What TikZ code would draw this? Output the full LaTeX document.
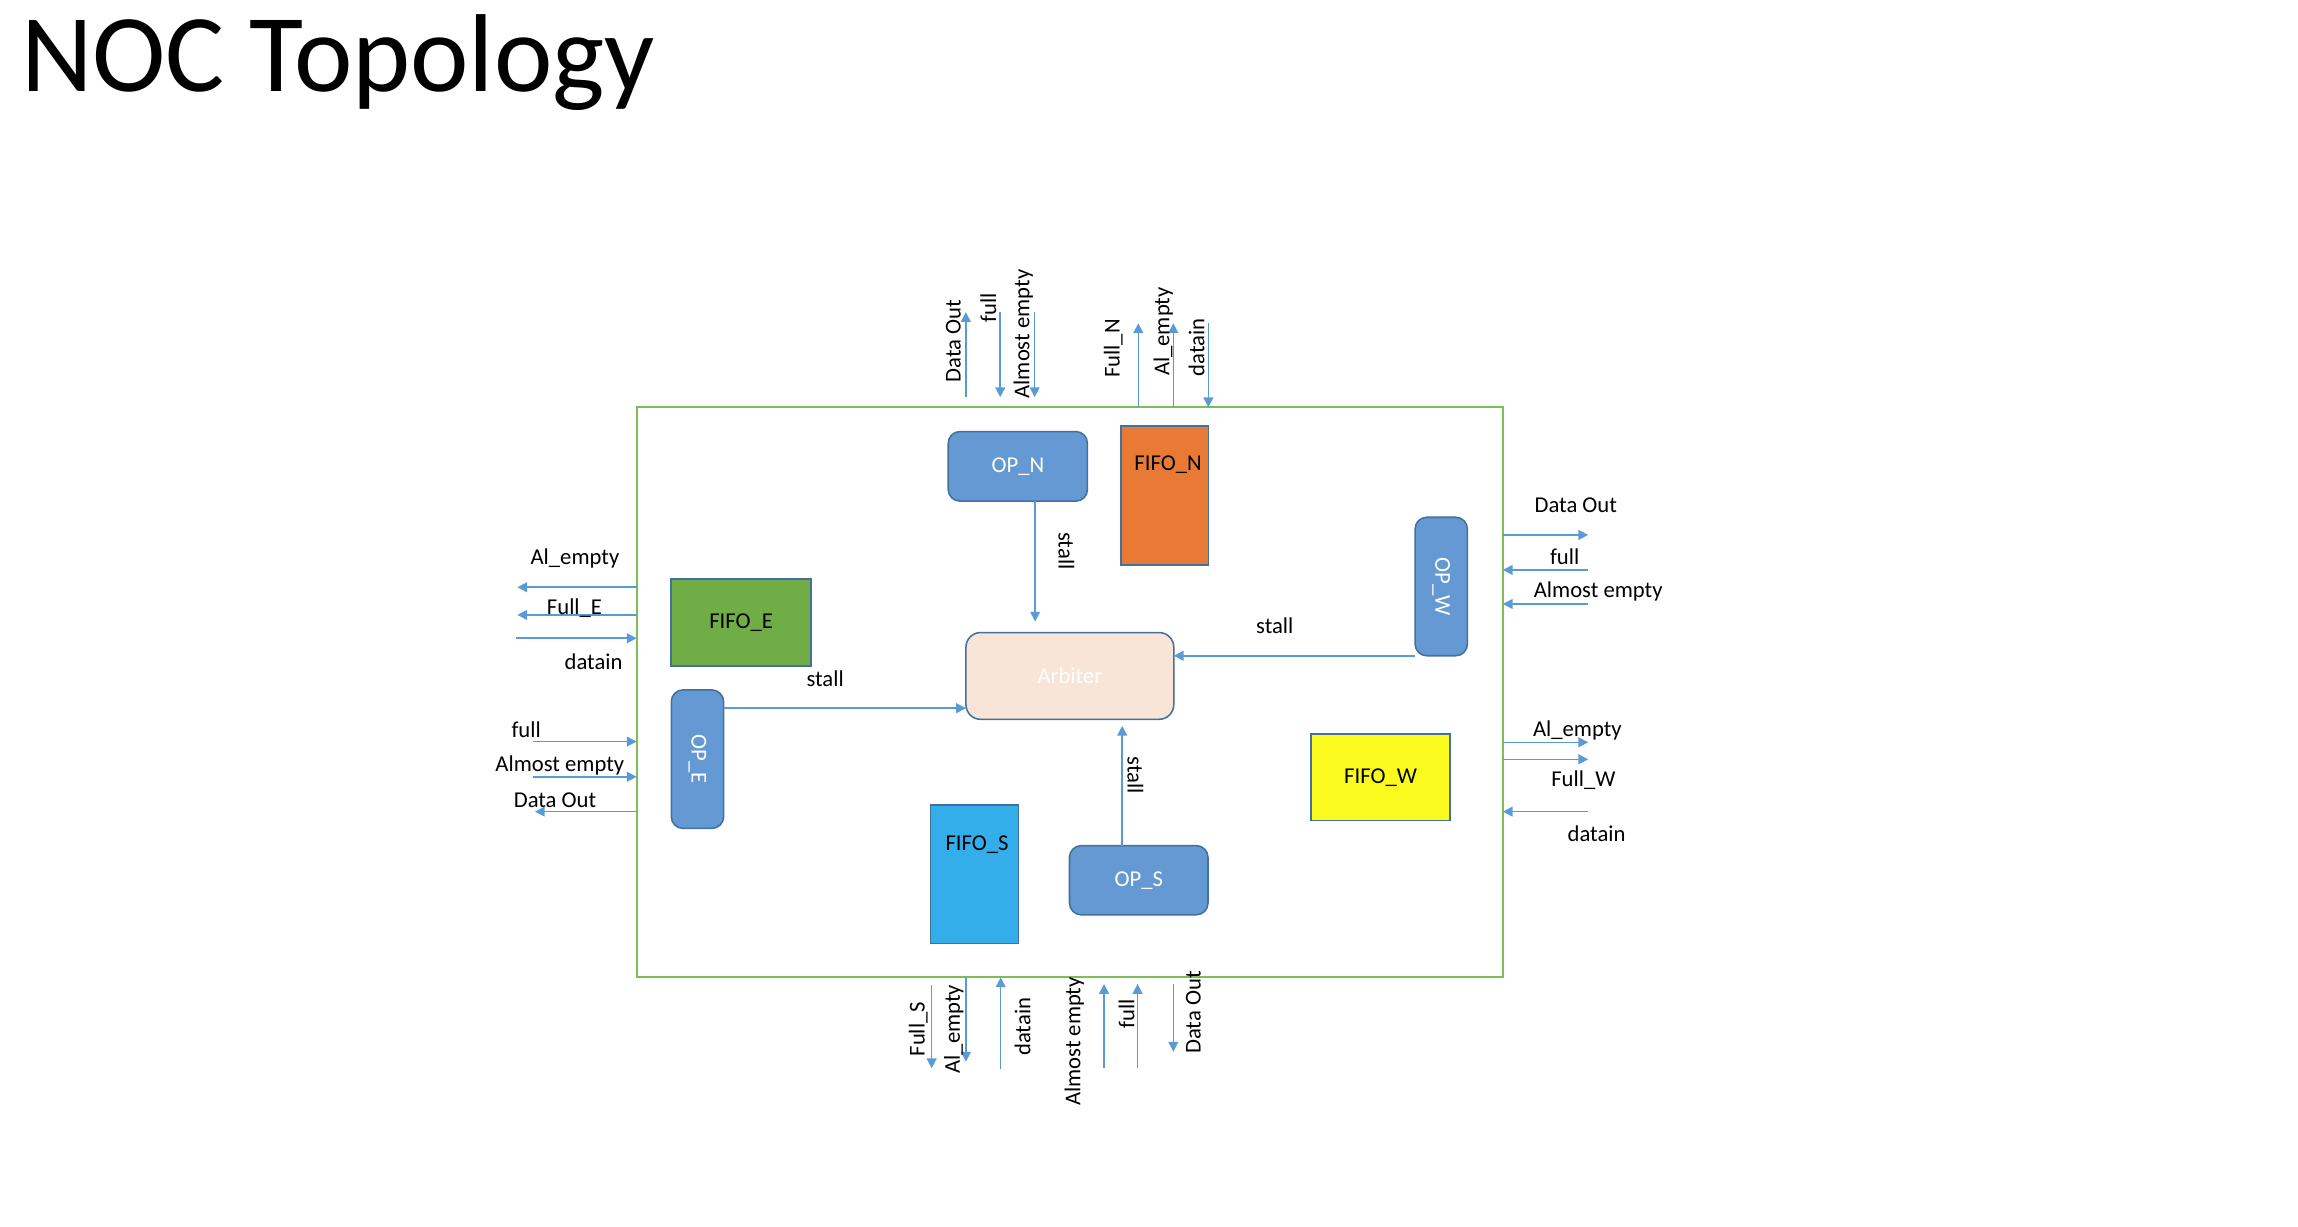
\documentclass[tikz,border=0pt]{standalone}
\usepackage{fontspec}
\setmainfont{Carlito}
\usetikzlibrary{arrows.meta}

\definecolor{sigblue}{RGB}{91,155,213}
\definecolor{opblue}{RGB}{101,153,211}
\definecolor{edgeblue}{RGB}{65,113,156}
\definecolor{framegreen}{RGB}{125,190,85}
\definecolor{fifoorange}{RGB}{232,122,53}
\definecolor{fifogreen}{RGB}{112,173,71}
\definecolor{fifoyellow}{RGB}{250,250,30}
\definecolor{fifocyan}{RGB}{52,174,235}
\definecolor{arbpeach}{RGB}{248,229,216}

\tikzset{
  sig/.style={sigblue, line width=0.6pt, -{Triangle[length=3.8pt,width=3.8pt]}},
  txt/.style={font=\fontsize{8.8}{10}\selectfont, inner sep=0pt},
  opbox/.style={draw=edgeblue, fill=opblue, line width=0.6pt, rounded corners=1.6mm,
    text=white, font=\fontsize{8.8}{10}\selectfont, inner sep=0pt, outer sep=0pt},
  fifobox/.style={draw=edgeblue, line width=0.6pt,
    font=\fontsize{8.8}{10}\selectfont, inner sep=0pt, outer sep=0pt},
}

\begin{document}
\begin{tikzpicture}[x=0.2mm, y=-0.2mm]
    \useasboundingbox (0,0) rectangle (1568,837);

    % Title
    \node[anchor=base west, inner sep=0pt, font=\fontsize{43}{50}\selectfont] (title) at (14,62.6) {NOC Topology};

    % --- Router frame ---
    \node[draw=framegreen, line width=0.8pt, minimum width=118.2mm, minimum height=77.8mm,
          inner sep=0pt, outer sep=0pt] (noc) at (729.9,472.4) {};

    % --- Blocks inside ---
    \node[opbox, minimum width=19mm, minimum height=9.5mm] (opN) at (694.5,318.2) {OP\_N};
    \node[fifobox, fill=fifoorange, minimum width=11.94mm, minimum height=18.96mm] (fifoN) at (794.7,338) {};
    \node[txt] (fifoNtxt) at (797,317) {FIFO\_N};

    \node[opbox, minimum width=7.14mm, minimum height=18.9mm] (opW) at (983.4,400.2) {};
    \node[txt, text=white, rotate=-90] (opWtxt) at (opW) {OP\_W};

    \node[fifobox, fill=fifogreen, minimum width=19.08mm, minimum height=11.88mm] (fifoE) at (505.7,424.7) {FIFO\_E};

    \node[opbox, minimum width=7.14mm, minimum height=18.9mm] (opE) at (475.9,518) {};
    \node[txt, text=white, rotate=-90] (opEtxt) at (opE) {OP\_E};

    \node[opbox, fill=arbpeach, rounded corners=2mm, minimum width=28.36mm, minimum height=11.84mm] (arb) at (730,461.2) {Arbiter};

    \node[fifobox, fill=fifoyellow, minimum width=19mm, minimum height=11.84mm] (fifoW) at (942,530.4) {FIFO\_W};

    \node[fifobox, fill=fifocyan, minimum width=12mm, minimum height=18.96mm] (fifoS) at (664.8,596.5) {};
    \node[txt] (fifoStxt) at (666.7,576.2) {FIFO\_S};

    \node[opbox, minimum width=18.9mm, minimum height=9.44mm] (opS) at (777,600.6) {OP\_S};

    % --- stall lines to the arbiter ---
    \draw[sig, shorten >=1.5mm] (opN.south -| 706.3,0) -- (arb.north -| 706.3,0);
    \draw[sig] (opW.south west) -- (arb.east |- opW.south west);
    \draw[sig] (opE.east |- 0,483.2) -- (arb.west |- 0,483.2);
    \draw[sig, shorten >=0.9mm] (opS.north -| 765.7,0) -- (arb.south -| 765.7,0);

    \node[txt, rotate=-90] (stallN) at (727.6,375.9) {stall};
    \node[txt] (stallW) at (869.8,426.9) {stall};
    \node[txt] (stallE) at (563,463) {stall};
    \node[txt, rotate=-90] (stallS) at (774.8,528.8) {stall};

    % --- North port ---
    \coordinate (nDout) at (659,213);
    \coordinate (nFull) at (682.5,271);
    \coordinate (nAlmost) at (706,271);
    \coordinate (nFullN) at (776.7,220.6);
    \coordinate (nAlEmpty) at (800.6,220.6);
    \coordinate (nDatain) at (824.5,220.6);
    \draw[sig] (nDout |- 0,271) -- (nDout);
    \draw[sig] (nFull |- 0,213) -- (nFull);
    \draw[sig] (nAlmost |- 0,213) -- (nAlmost);
    \draw[sig] (nFullN |- noc.north) -- (nFullN);
    \draw[sig] (nAlEmpty |- noc.north) -- (nAlEmpty);
    \draw[sig] (nDatain) -- (nDatain |- noc.north);
    \node[txt, rotate=90] (lnDout) at (650.5,232.6) {Data Out};
    \node[txt, rotate=90] (lnFull) at (674.3,209.8) {full};
    \node[txt, rotate=90] (lnAlmost) at (698.2,227.9) {Almost empty};
    \node[txt, rotate=90] (lnFullN) at (759.6,237.7) {Full\_N};
    \node[txt, rotate=90] (lnAlEmpty) at (793.8,226.3) {Al\_empty};
    \node[txt, rotate=90] (lnDatain) at (816.5,237) {datain};

    % --- West side (E port) ---
    \coordinate (wAlEmpty) at (353,400.7);
    \coordinate (wFullE) at (353,419.6);
    \coordinate (wDatain) at (352,435.5);
    \coordinate (wFull) at (364,506);
    \coordinate (wAlmost) at (364,530);
    \coordinate (wDout) at (365,553.8);
    \draw[sig] (wAlEmpty -| noc.west) -- (wAlEmpty);
    \draw[sig] (wFullE -| noc.west) -- (wFullE);
    \draw[sig] (wDatain) -- (wDatain -| noc.west);
    \draw[sig] (wFull) -- (wFull -| noc.west);
    \draw[sig] (wAlmost) -- (wAlmost -| noc.west);
    \draw[sig] (wDout -| noc.west) -- (wDout);
    \node[txt] (lwAlEmpty) at (392.3,381) {Al\_empty};
    \node[txt] (lwFullE) at (392,415) {Full\_E};
    \node[txt] (lwDatain) at (405,451.5) {datain};
    \node[txt] (lwFull) at (359,498) {full};
    \node[txt] (lwAlmost) at (382,522) {Almost empty};
    \node[txt] (lwDout) at (378.7,545.9) {Data Out};

    % --- East side (W port) ---
    \coordinate (eDout) at (1083.7,365);
    \coordinate (eFull) at (1083.7,388.9);
    \coordinate (eAlmost) at (1083.7,412.1);
    \coordinate (eAlEmpty) at (1083.7,506.5);
    \coordinate (eFullW) at (1083.7,518.1);
    \coordinate (eDatain) at (1083.7,553.8);
    \draw[sig] (eDout -| noc.east) -- (eDout);
    \draw[sig] (eFull) -- (eFull -| noc.east);
    \draw[sig] (eAlmost) -- (eAlmost -| noc.east);
    \draw[sig] (eAlEmpty -| noc.east) -- (eAlEmpty);
    \draw[sig] (eFullW -| noc.east) -- (eFullW);
    \draw[sig] (eDatain) -- (eDatain -| noc.east);
    \node[txt] (leDout) at (1075.2,344.6) {Data Out};
    \node[txt] (leFull) at (1067.6,379.8) {full};
    \node[txt] (leAlmost) at (1090.5,403.7) {Almost empty};
    \node[txt] (leAlEmpty) at (1076.3,498.1) {Al\_empty};
    \node[txt] (leFullW) at (1080.4,532.2) {Full\_W};
    \node[txt] (leDatain) at (1089.4,568.6) {datain};

    % --- South port ---
    \coordinate (sFullS) at (635.7,728.9);
    \coordinate (sAlEmpty) at (659.1,724.4);
    \coordinate (sDatain) at (682.8,729.6);
    \coordinate (sAlmost) at (753.3,671.4);
    \coordinate (sFull) at (776.2,671.4);
    \coordinate (sDout) at (800.6,717.6);
    \draw[sig] (sFullS |- 0,672) -- (sFullS);
    \draw[sig] (sAlEmpty |- noc.south) -- (sAlEmpty);
    \draw[sig] (sDatain) -- (sDatain |- noc.south);
    \draw[sig] (sAlmost |- 0,728.9) -- (sAlmost);
    \draw[sig] (sFull |- 0,728.9) -- (sFull);
    \draw[sig] (sDout |- 0,671.4) -- (sDout);
    \node[txt, rotate=90] (lsFullS) at (626.6,702.2) {Full\_S};
    \node[txt, rotate=90] (lsAlEmpty) at (650.9,702.2) {Al\_empty};
    \node[txt, rotate=90] (lsDatain) at (697.8,700.5) {datain};
    \node[txt, rotate=90] (lsAlmost) at (733,710.7) {Almost empty};
    \node[txt, rotate=90] (lsFull) at (768.7,692) {full};
    \node[txt, rotate=90] (lsDout) at (814.2,690.9) {Data Out};
\end{tikzpicture}
\end{document}
